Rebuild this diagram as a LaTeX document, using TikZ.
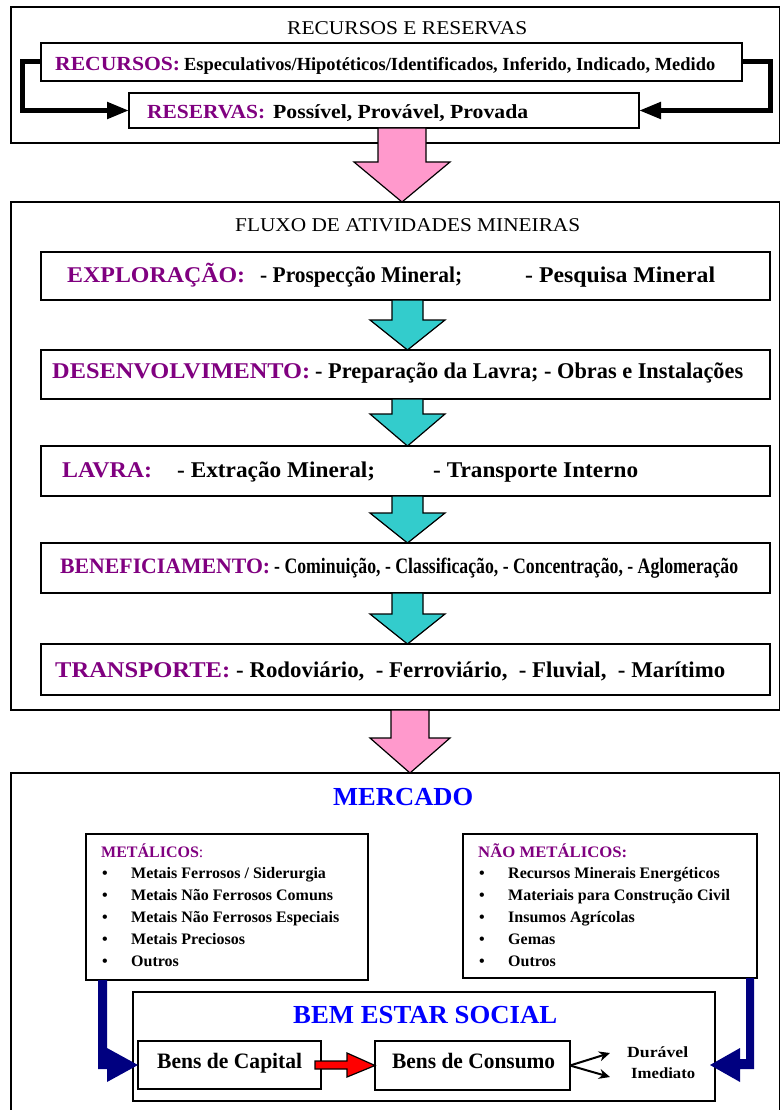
\documentclass[tikz,border=0pt]{standalone}
\usepackage{fontspec}
\setmainfont{Liberation Serif}
\usepackage{graphicx}
\usetikzlibrary{calc,arrows.meta}
\definecolor{purp}{RGB}{128,0,128}
\definecolor{pinkfill}{RGB}{255,153,204}
\definecolor{tealfill}{RGB}{51,204,204}
\definecolor{navyarrow}{RGB}{0,0,128}
\definecolor{titleblue}{RGB}{0,0,255}
% squeeze or stretch a line of text to a given width (pt), keeping its height
\newcommand\tw[2]{\resizebox{#1pt}{\height}{#2}}
\newcommand\fs[1]{\fontsize{#1}{#1}\selectfont}
% block arrow pointing down: #1 centre x, #2 from node, #3 to node,
% #4 half shaft width, #5 half head width, #6 head length, #7 fill
\newcommand\fatdown[7]{%
  \draw[line width=1.2pt, fill=#7, line join=miter]
    let \p1=(#2.south), \p2=(#3.north), \p3=(#1,0) in
    ({\x3-#4pt},\y1) -- ({\x3+#4pt},\y1) -- ({\x3+#4pt},{\y2+#6pt}) --
    ({\x3+#5pt},{\y2+#6pt}) -- (\x3,\y2) -- ({\x3-#5pt},{\y2+#6pt}) --
    ({\x3-#4pt},{\y2+#6pt}) -- cycle;}
\begin{document}
\begin{tikzpicture}[x=1pt,y=-1pt,
  frame/.style={draw, line width=1.3pt, anchor=north west, inner sep=0pt, outer sep=0pt},
  stagebox/.style={draw, line width=2.2pt, anchor=north west, inner sep=0pt, outer sep=0pt, fill=white},
  txt/.style={anchor=base west, inner sep=0pt, font=\bfseries},
  plain/.style={anchor=base west, inner sep=0pt, font=\normalfont},
  item/.style={anchor=base west, inner sep=0pt, font=\bfseries\fs{16}},
  bul/.style={anchor=base west, inner sep=0pt, font=\bfseries\fs{16}},
  thickconn/.style={line width=5pt, -{Triangle[length=22pt,width=16pt]}},
  splitarrow/.style={line width=2pt, -{Stealth[length=11pt,width=10pt]}}
]
\useasboundingbox (0,0) rectangle (781,1110);

% ---------- outer frames ----------
\node[frame, minimum width=768.5, minimum height=136] (topframe) at (11,7) {};
\node[frame, minimum width=768.5, minimum height=508] (midframe) at (11,202) {};
\node[frame, minimum width=768.5, minimum height=360] (botframe) at (11,773) {};

% ---------- resources and reserves ----------
\node[plain] (rrtitle) at (287,35) {\tw{240}{\fs{19.5}RECURSOS E RESERVAS}};
\node[stagebox, minimum width=701, minimum height=38] (rec) at (41,43) {};
\node[stagebox, minimum width=510, minimum height=35] (res) at (129,93) {};
\node[txt] (reclab) at (55,71) {\tw{125}{\color{purp}\fs{20}RECURSOS:}};
\node[txt] (rectext) at (184,71) {\tw{531}{\fs{18.5}Especulativos/Hipotéticos/Identificados, Inferido, Indicado, Medido}};
\node[txt] (reslab) at (147,119) {\tw{118}{\color{purp}\fs{20}RESERVAS:}};
\node[txt] (restext) at (273,119) {\tw{255}{\fs{20}Possível, Provável, Provada}};
\draw[thickconn] (rec.west) -- ++(-19,0) |- (res.west);
\draw[thickconn] (rec.east) -- ++(28,0) |- (res.east);

% ---------- mining activity flow ----------
\node[plain] (flowtitle) at (235,231) {\tw{345}{\fs{19.5}FLUXO DE ATIVIDADES MINEIRAS}};
\node[stagebox, minimum width=729, minimum height=48] (expl) at (41,252) {};
\node[stagebox, minimum width=729, minimum height=49] (dev) at (41,350) {};
\node[stagebox, minimum width=729, minimum height=50] (lavra) at (41,446) {};
\node[stagebox, minimum width=729, minimum height=50] (benef) at (41,543) {};
\node[stagebox, minimum width=729, minimum height=51] (transp) at (41,644) {};

\node[txt] (expllab) at (67,282) {\tw{178}{\color{purp}\fs{22.5}EXPLORAÇÃO:}};
\node[txt] (expla) at (260,282) {\tw{202}{\fs{22.5}- Prospecção Mineral;}};
\node[txt] (explb) at (525,282) {\tw{190}{\fs{22.5}- Pesquisa Mineral}};

\node[txt] (devlab) at (52,378) {\tw{258}{\color{purp}\fs{22.5}DESENVOLVIMENTO:}};
\node[txt] (devtext) at (315,378) {\tw{428}{\fs{22.5}- Preparação da Lavra; - Obras e Instalações}};

\node[txt] (lavlab) at (62,477) {\tw{90}{\color{purp}\fs{22.5}LAVRA:}};
\node[txt] (lava) at (177,477) {\tw{198}{\fs{22.5}- Extração Mineral;}};
\node[txt] (lavb) at (433,477) {\tw{205}{\fs{22.5}- Transporte Interno}};

\node[txt] (benlab) at (60,573) {\tw{210}{\color{purp}\fs{22}BENEFICIAMENTO:}};
\node[txt] (bentext) at (274,573) {\tw{464}{\fs{22}- Cominuição, - Classificação, - Concentração, - Aglomeração}};

\node[txt] (tralab) at (55,677) {\tw{175}{\color{purp}\fs{22.5}TRANSPORTE:}};
\node[txt] (tratext) at (236,677) {\tw{489}{\fs{22.5}- Rodoviário,\ \ - Ferroviário,\ \ - Fluvial,\ \ - Marítimo}};

% block arrows between the stages
\fatdown{402}{res}{midframe}{24}{48}{40}{pinkfill}
\fatdown{407.5}{expl}{dev}{15.5}{37.5}{30}{tealfill}
\fatdown{407.5}{dev}{lavra}{15.5}{37.5}{32}{tealfill}
\fatdown{407.5}{lavra}{benef}{15.5}{37.5}{30}{tealfill}
\fatdown{407.5}{benef}{transp}{15.5}{37.5}{30}{tealfill}
\fatdown{410}{midframe}{botframe}{19}{40}{35}{pinkfill}

% ---------- market ----------
\node[txt] (mercado) at (333,805) {\tw{140}{\color{titleblue}\fs{26}MERCADO}};
\node[stagebox, minimum width=282, minimum height=146] (met) at (86,834) {};
\node[stagebox, minimum width=294, minimum height=144] (nonmet) at (463,834) {};
\node[txt] (metlab) at (101,857) {\color{purp}\fs{16}METÁLICOS\mdseries:};
\node[txt] (nonlab) at (478,857) {\tw{149}{\color{purp}\fs{16}NÃO METÁLICOS:}};
\foreach \t [count=\i] in {Metais Ferrosos / Siderurgia, Metais Não Ferrosos Comuns,
    Metais Não Ferrosos Especiais, Metais Preciosos, Outros} {
  \node[bul] (metb\i) at (102,{856+22*\i}) {•};
  \node[item] (met\i) at (131,{856+22*\i}) {\t};
}
\foreach \t [count=\i] in {Recursos Minerais Energéticos, Materiais para Construção Civil,
    Insumos Agrícolas, Gemas, Outros} {
  \node[bul] (nonb\i) at (479,{856+22*\i}) {•};
  \node[item] (non\i) at (508,{856+22*\i}) {\t};
}

% ---------- social welfare ----------
\node[stagebox, minimum width=582, minimum height=109] (bem) at (133,992) {};
\node[txt] (bemtitle) at (293,1023) {\tw{264}{\color{titleblue}\fs{26}BEM ESTAR SOCIAL}};
\node[stagebox, minimum width=183, minimum height=48] (cap) at (138,1041) {};
\node[stagebox, minimum width=195, minimum height=49] (con) at (375,1041) {};
\node[txt] (captext) at (157,1068) {\tw{145}{\fs{22}Bens de Capital}};
\node[txt] (context) at (392,1068) {\tw{163}{\fs{22}Bens de Consumo}};
\node[txt] (dur) at (627,1057) {\tw{61}{\fs{15.5}Durável}};
\node[txt] (imm) at (631,1078) {\tw{64}{\fs{15.5}Imediato}};

% capital goods feed consumer goods
\draw[line width=1.2pt, fill=red, line join=miter]
  let \p1=(cap.east), \p2=(con.west) in
  ({\x1-6pt},{\y1+4pt}) -- ({\x2-28pt},{\y1+4pt}) -- ({\x2-28pt},{\y1+12pt}) --
  (\p2) -- ({\x2-28pt},{\y1-12pt}) -- ({\x2-28pt},{\y1-4pt}) -- ({\x1-6pt},{\y1-4pt}) -- cycle;
\draw[splitarrow] (con.east) -- ($(dur.base west)+(-17,-4)$);
\draw[splitarrow] (con.east) -- ($(imm.base west)+(-21,-1)$);

% metallic and non-metallic products flow into welfare
\fill[navyarrow] let \p1=(met.south west), \p2=(cap.west) in
  ({\x1+12pt},\y1) -- ({\x1+21pt},\y1) -- ({\x1+21pt},{\y2+17pt}) -- (\p2) --
  ({\x1+21pt},{\y2-17pt}) -- ({\x1+21pt},{\y2-4pt}) -- ({\x1+12pt},{\y2-4pt}) -- cycle;
\fill[navyarrow] let \p1=(nonmet.south east), \p2=(bem.east), \p3=(cap.west) in
  ({\x1-11pt},\y1) -- ({\x1-3pt},\y1) -- ({\x1-3pt},{\y3-4pt}) -- ({\x2+25pt},{\y3-4pt}) --
  ({\x2+25pt},{\y3-17pt}) -- ({\x2-5pt},\y3) -- ({\x2+25pt},{\y3+17pt}) --
  ({\x2+25pt},{\y3+6pt}) -- ({\x1-11pt},{\y3+6pt}) -- cycle;
\end{tikzpicture}
\end{document}
